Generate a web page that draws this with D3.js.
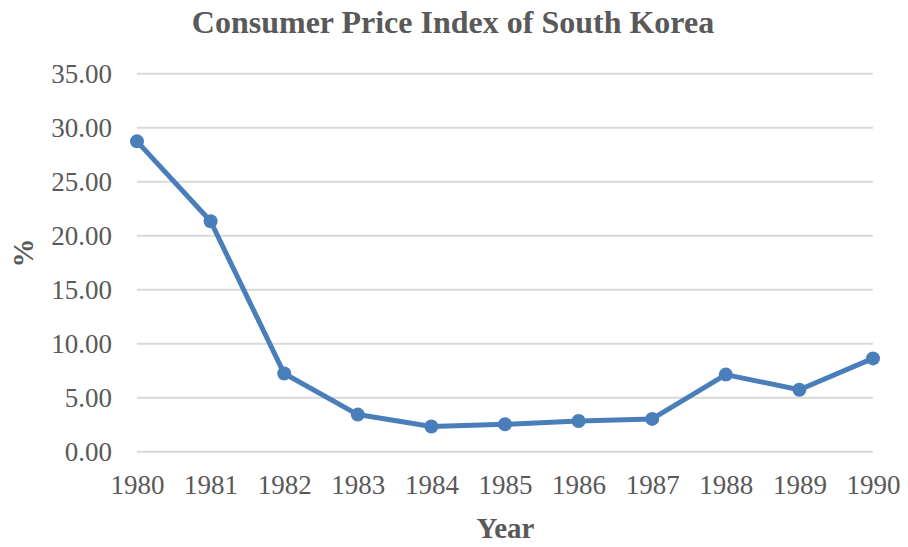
<!DOCTYPE html>
<html><head><meta charset="utf-8">
<script src="https://cdn.jsdelivr.net/npm/d3@7"></script>
<style>body{margin:0;background:#fff}</style>
</head><body>
<svg id="chart" width="908" height="547"></svg>
<script>
const years = ["1980","1981","1982","1983","1984","1985","1986","1987","1988","1989","1990"];
const cpi = [28.7, 21.3, 7.2, 3.4, 2.3, 2.5, 2.8, 3.0, 7.1, 5.7, 8.6];
const yTicks = [0, 5, 10, 15, 20, 25, 30, 35];
const title = "Consumer Price Index of South Korea";
const xTitle = "Year";
const yTitle = "%";

const svg = d3.select("#chart");
const font = "'Liberation Serif','Times New Roman',serif";
const x = d3.scalePoint().domain(years).range([137, 873]).padding(0);
const y = d3.scaleLinear().domain([0, 35]).range([451.3, 73.3]);

svg.append("text").attr("x", 453).attr("y", 33).attr("text-anchor", "middle")
  .attr("font-family", font).attr("font-weight", "bold").attr("font-size", 32)
  .attr("fill", "#595959").text(title);

const yAxis = svg.append("g").attr("transform", "translate(137,0)")
  .call(d3.axisLeft(y).tickValues(yTicks).tickSize(-736).tickPadding(25).tickFormat(d3.format(".2f")));
yAxis.select(".domain").remove();
yAxis.selectAll("line").attr("stroke", "#d9d9d9").attr("stroke-width", 2);
yAxis.selectAll("text").attr("font-family", font).attr("font-size", 27).attr("fill", "#595959")
  .attr("dy", "0.33em");

const xAxis = svg.append("g").attr("transform", "translate(0,451.3)")
  .call(d3.axisBottom(x).tickSize(0).tickPadding(0));
xAxis.select(".domain").remove();
xAxis.selectAll("text").attr("font-family", font).attr("font-size", 27).attr("fill", "#595959")
  .attr("dy", null).attr("y", 43);

svg.append("text").attr("x", 505.5).attr("y", 538).attr("text-anchor", "middle")
  .attr("font-family", font).attr("font-weight", "bold").attr("font-size", 29)
  .attr("fill", "#595959").text(xTitle);
svg.append("text").attr("transform", "translate(33,253) rotate(-90)").attr("text-anchor", "middle")
  .attr("font-family", font).attr("font-weight", "bold").attr("font-size", 29)
  .attr("fill", "#595959").text(yTitle);

const data = years.map((yr, i) => ({yr, v: cpi[i]}));
svg.append("path").datum(data)
  .attr("fill", "none").attr("stroke", "#4a7ebb").attr("stroke-width", 5)
  .attr("stroke-linejoin", "round")
  .attr("d", d3.line().x(d => x(d.yr)).y(d => y(d.v)));
svg.selectAll("circle.pt").data(data).join("circle").attr("class", "pt")
  .attr("cx", d => x(d.yr)).attr("cy", d => y(d.v)).attr("r", 7)
  .attr("fill", "#4a7ebb");
</script>
</body></html>
